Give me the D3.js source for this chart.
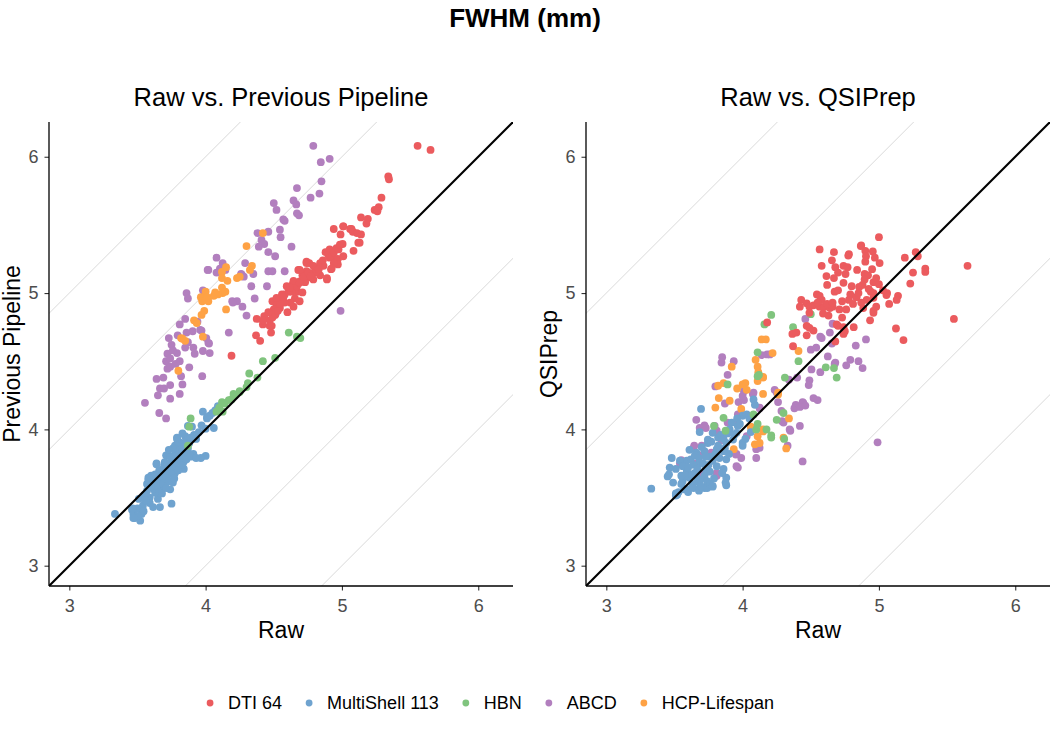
<!DOCTYPE html>
<html>
<head>
<meta charset="utf-8">
<script src="https://cdn.jsdelivr.net/npm/d3@7"></script>
<style>
  html, body { margin: 0; padding: 0; background: #fff; }
  svg { display: block; font-family: "Liberation Sans", Arial, Helvetica, sans-serif; }
</style>
</head>
<body>
<svg id="chart" width="1050" height="741"></svg>
<script>
// ---------------- DATA (raw FWHM, processed FWHM) ----------------
const seriesNames = ["DTI 64", "MultiShell 113", "HBN", "ABCD", "HCP-Lifespan"];
const seriesColors = ["#EB5B5E", "#6FA3CF", "#80C47E", "#B27FBE", "#FEA245"];
const tickValues = [3, 4, 5, 6];
const panelTitles = ["Raw vs. Previous Pipeline", "Raw vs. QSIPrep"];
const yLabels = ["Previous Pipeline", "QSIPrep"];
const refOffsets = [-2, -1, 1, 2];

// Left panel: Raw vs Previous Pipeline
const prevDTI = [[5.555,6.08],[5.65,6.05],[5.34,5.855],[5.345,5.835],[5.29,5.70],[5.27,5.63],[5.24,5.61],[5.26,5.60],[5.14,5.555],[5.19,5.545],[5.18,5.51],[4.94,5.47],[5.01,5.49],[5.06,5.47],[5.08,5.45],[4.99,5.43],[5.14,5.43],[5.13,5.37],[5.005,5.36],[4.88,5.30],[4.91,5.32],[4.96,5.33],[4.93,5.27],[4.90,5.28],[4.97,5.25],[4.97,5.21],[4.85,5.22],[4.92,5.175],[4.74,5.23],[4.76,5.22],[4.80,5.19],[4.81,5.15],[4.78,5.14],[4.74,5.16],[4.68,5.17],[4.71,5.13],[4.75,5.115],[4.84,5.13],[4.89,5.10],[4.79,5.10],[4.73,5.08],[4.69,5.085],[4.64,5.07],[4.655,5.045],[4.61,5.01],[4.67,5.01],[4.71,5.005],[4.58,4.99],[4.655,4.96],[4.56,4.95],[4.69,4.94],[4.49,4.94],[4.52,4.915],[4.62,4.93],[4.375,4.81],[4.42,4.77],[4.47,4.80],[4.48,4.71],[4.37,4.69],[4.40,4.65],[4.47,4.76],[4.51,4.84],[4.545,4.89],[4.60,4.86],[4.645,4.90],[4.19,4.54],[4.43,4.83],[4.49,4.82],[4.485,4.76],[4.50,4.88],[4.545,4.915],[4.58,4.93],[4.52,4.965],[4.56,4.99],[4.63,5.01],[4.67,5.05],[4.595,5.05],[4.645,5.09],[4.69,5.075],[4.72,5.12],[4.755,5.15],[4.69,5.17],[4.74,5.22],[4.79,5.20],[4.84,5.22],[4.815,5.16],[4.865,5.20],[4.89,5.11],[4.91,5.26],[4.94,5.295],[4.975,5.32],[4.985,5.355],[5.01,5.27],[4.94,5.22],[4.925,5.18],[5.01,5.49],[5.07,5.47],[5.12,5.37],[5.11,5.44],[5.085,5.31],[4.86,5.24],[4.83,5.175],[4.77,5.125],[4.62,5.04],[4.57,4.97],[4.53,4.87],[4.46,4.86],[4.42,4.80]];
const prevMulti = [[3.335,3.38],[3.46,3.41],[3.48,3.35],[3.52,3.33],[3.53,3.38],[3.51,3.49],[3.54,3.44],[3.57,3.55],[3.59,3.50],[3.59,3.46],[3.615,3.43],[3.665,3.43],[3.65,3.49],[3.63,3.535],[3.75,3.455],[3.615,3.585],[3.68,3.57],[3.74,3.56],[3.60,3.66],[3.58,3.63],[3.65,3.63],[3.70,3.61],[3.76,3.61],[3.665,3.695],[3.73,3.67],[3.775,3.68],[3.64,3.75],[3.695,3.73],[3.84,3.71],[3.71,3.81],[3.80,3.79],[3.75,3.76],[3.84,3.765],[3.79,3.94],[3.85,3.95],[3.915,3.96],[3.775,3.88],[3.82,3.865],[3.86,3.83],[3.91,3.82],[4.00,3.805],[3.965,3.79],[3.90,4.02],[3.98,4.13],[4.01,4.08],[4.06,4.01],[4.00,4.005],[4.09,4.17],[3.55,3.52],[3.57,3.60],[3.62,3.56],[3.62,3.62],[3.64,3.58],[3.66,3.54],[3.67,3.62],[3.68,3.66],[3.69,3.60],[3.70,3.68],[3.71,3.64],[3.72,3.70],[3.72,3.74],[3.73,3.62],[3.74,3.72],[3.75,3.69],[3.76,3.74],[3.77,3.78],[3.78,3.72],[3.78,3.83],[3.79,3.76],[3.80,3.85],[3.81,3.80],[3.82,3.77],[3.82,3.90],[3.83,3.84],[3.84,3.81],[3.85,3.88],[3.86,3.92],[3.87,3.86],[3.88,3.90],[3.89,3.94],[3.88,3.82],[3.93,3.93],[3.95,3.98],[3.97,4.03],[4.03,4.10],[4.05,4.12],[4.07,4.14],[3.70,3.76],[3.66,3.70],[3.63,3.67],[3.60,3.58],[3.56,3.48],[3.50,3.42],[3.47,3.38],[3.545,3.40],[3.68,3.53],[3.71,3.57],[3.77,3.64],[3.80,3.70],[3.83,3.74],[3.86,3.78],[3.89,3.80],[3.93,3.79],[3.83,3.97],[3.80,3.91],[3.76,3.86],[3.74,3.80],[3.73,3.85],[4.01,4.09],[3.465,3.42],[3.50,3.365],[3.47,3.35],[3.79,3.93],[3.87,4.025],[3.64,3.745],[3.58,3.645]];
const prevHBN = [[4.61,4.71],[4.67,4.68],[4.695,4.67],[4.51,4.525],[4.42,4.50],[4.32,4.41],[4.38,4.38],[4.31,4.34],[4.30,4.31],[4.25,4.28],[4.215,4.25],[4.17,4.215],[4.12,4.20],[4.105,4.135],[4.08,4.13],[4.125,4.13],[3.89,4.08],[3.88,4.02],[3.87,3.88],[4.14,4.19],[4.10,4.16],[4.19,4.22],[4.205,4.26],[4.25,4.275]];
const prevABCD = [[4.79,6.08],[4.845,5.96],[4.91,5.985],[4.85,5.82],[4.835,5.73],[4.77,5.70],[4.67,5.77],[4.645,5.68],[4.665,5.65],[4.50,5.66],[4.52,5.61],[4.67,5.585],[4.685,5.57],[4.58,5.53],[4.46,5.45],[4.545,5.465],[4.55,5.41],[4.41,5.39],[4.43,5.36],[4.39,5.34],[4.63,5.34],[4.46,5.30],[4.51,5.27],[4.08,5.26],[4.125,5.22],[4.29,5.22],[4.02,5.17],[4.105,5.18],[4.145,5.17],[4.08,5.15],[4.46,5.16],[4.49,5.16],[4.58,5.16],[4.26,5.14],[4.28,5.12],[4.35,5.14],[4.335,5.05],[4.45,5.05],[4.36,4.96],[3.86,5.00],[3.87,4.96],[3.98,5.02],[4.195,4.94],[4.23,4.94],[4.27,4.90],[4.99,4.87],[4.515,4.85],[4.17,4.71],[3.85,4.81],[3.81,4.77],[3.73,4.67],[3.795,4.69],[3.75,4.62],[3.72,4.555],[3.71,4.50],[3.74,4.52],[3.81,4.50],[3.79,4.56],[3.72,4.445],[3.74,4.46],[3.88,4.455],[3.82,4.39],[3.64,4.37],[3.69,4.38],[3.74,4.325],[3.83,4.33],[3.665,4.30],[3.695,4.30],[3.65,4.25],[3.74,4.225],[3.81,4.26],[3.975,4.39],[3.555,4.195],[3.66,4.12],[3.71,4.08],[3.87,4.64],[3.91,4.60],[3.92,4.555],[3.98,4.575],[4.03,4.56],[4.02,4.635],[3.97,4.725],[3.94,4.79],[3.905,4.72],[3.86,4.71],[4.20,4.93],[4.30,4.835],[4.005,4.67],[4.025,4.63],[3.96,4.73],[4.57,5.54],[4.015,5.17],[4.38,5.44],[4.265,5.135],[3.76,4.58],[3.78,4.48],[3.85,4.60]];
const prevHCP = [[4.42,5.44],[4.30,5.345],[4.34,5.20],[4.325,5.17],[4.15,5.19],[4.12,5.155],[4.12,5.11],[4.16,5.09],[4.23,5.11],[4.25,5.12],[4.12,5.04],[4.125,5.00],[4.09,4.99],[4.145,5.01],[4.06,4.98],[4.00,5.01],[3.965,4.97],[4.02,4.94],[3.975,4.94],[4.15,4.88],[3.99,4.87],[3.97,4.84],[3.915,4.80],[3.935,4.78],[3.83,4.665],[3.85,4.65],[3.98,4.68],[3.80,4.43],[4.07,5.005],[4.01,4.97],[3.82,4.67]];

// Right panel: Raw vs QSIPrep
const qsiDTI = [[5.00,5.41],[4.565,5.32],[4.67,5.30],[4.78,5.285],[4.87,5.35],[4.90,5.31],[4.955,5.305],[4.905,5.27],[4.90,5.23],[4.97,5.26],[5.005,5.22],[5.19,5.26],[5.27,5.30],[5.285,5.27],[5.65,5.20],[4.58,5.20],[4.655,5.24],[4.68,5.19],[4.74,5.20],[4.77,5.19],[4.70,5.15],[4.755,5.14],[4.615,5.125],[4.67,5.11],[4.84,5.17],[4.895,5.14],[4.92,5.13],[4.95,5.175],[4.895,5.10],[5.34,5.18],[5.34,5.155],[5.25,5.15],[5.23,5.07],[4.62,5.06],[4.74,5.075],[4.96,5.08],[5.00,5.065],[4.855,5.045],[4.925,5.03],[4.94,5.01],[4.96,5.00],[4.675,5.01],[4.70,5.02],[4.545,4.99],[4.565,4.98],[4.79,4.99],[4.835,4.97],[4.73,4.94],[4.78,4.95],[4.81,4.92],[4.91,4.95],[4.96,4.965],[5.06,5.00],[5.14,4.98],[5.13,4.95],[5.075,4.92],[4.43,4.95],[4.42,4.90],[4.47,4.925],[4.49,4.90],[4.52,4.91],[4.49,4.855],[4.565,4.90],[4.60,4.90],[4.64,4.89],[4.66,4.90],[4.59,4.85],[4.63,4.835],[4.71,4.88],[4.76,4.88],[4.73,4.82],[4.885,4.89],[4.98,4.90],[4.96,4.87],[4.935,4.80],[5.55,4.81],[5.125,4.74],[5.18,4.655],[4.18,4.785],[4.47,4.76],[4.49,4.745],[4.52,4.725],[4.69,4.77],[4.70,4.76],[4.74,4.75],[4.75,4.72],[4.74,4.70],[4.815,4.75],[4.365,4.70],[4.395,4.71],[4.47,4.69],[4.37,4.61],[4.68,4.645],[4.867,5.345],[4.775,5.275],[4.96,4.855],[5.055,4.985],[4.58,4.95],[4.62,4.92],[4.55,4.93],[4.66,4.93],[4.85,5.00],[4.88,5.06],[5.03,5.02],[4.98,5.11],[4.87,4.93],[4.80,5.05]];
const qsiMulti = [[3.33,3.565],[3.51,3.53],[3.48,3.79],[3.695,4.15],[4.08,4.22],[3.685,3.98],[3.465,3.72],[3.46,3.67],[3.49,3.61],[3.55,3.60],[3.59,3.56],[3.685,3.57],[3.72,3.57],[3.78,3.585],[3.875,3.61],[3.88,3.645],[3.86,3.71],[3.61,3.85],[3.59,3.77],[3.685,3.755],[3.73,3.71],[3.65,3.68],[3.61,3.645],[3.67,3.62],[3.59,3.695],[3.76,3.80],[3.81,3.855],[3.745,3.90],[3.86,3.84],[3.88,3.90],[3.93,3.925],[3.905,4.00],[3.965,4.025],[4.00,4.10],[4.03,4.11],[4.00,3.90],[3.955,3.975],[3.82,3.94],[3.78,3.975],[3.745,3.925],[3.66,3.83],[3.54,3.77],[3.56,3.73],[3.51,3.71],[3.88,3.78],[3.72,3.84],[3.52,3.52],[3.53,3.54],[3.56,3.62],[3.58,3.66],[3.60,3.72],[3.62,3.78],[3.63,3.60],[3.64,3.74],[3.65,3.81],[3.66,3.66],[3.67,3.71],[3.68,3.79],[3.69,3.63],[3.70,3.87],[3.71,3.75],[3.72,3.66],[3.73,3.80],[3.74,3.62],[3.75,3.74],[3.76,3.69],[3.77,3.91],[3.78,3.77],[3.79,3.64],[3.80,3.82],[3.81,3.73],[3.82,3.88],[3.83,3.79],[3.84,3.96],[3.85,3.68],[3.86,3.93],[3.87,3.86],[3.89,3.97],[3.90,3.82],[3.92,4.05],[3.94,3.96],[3.96,4.08],[3.98,4.04],[4.02,3.93],[4.05,4.08],[4.06,3.98],[4.09,4.18],[3.57,3.56],[3.60,3.54],[3.64,3.57],[3.68,3.55],[3.70,3.58],[3.74,3.57],[3.76,3.60],[3.63,3.67],[3.55,3.66],[4.00,3.88],[3.88,3.59],[3.78,3.58],[3.51,3.515],[3.45,3.655]];
const qsiHBN = [[4.21,4.84],[4.16,4.77],[4.37,4.75],[4.50,4.845],[4.11,4.565],[4.41,4.50],[4.12,4.40],[4.31,4.38],[4.61,4.455],[4.67,4.45],[4.69,4.38],[3.89,4.33],[4.30,4.12],[4.25,4.07],[4.11,4.04],[4.10,4.00],[4.175,4.00],[4.21,3.955],[4.305,3.93],[3.86,4.085],[3.79,4.025],[3.875,3.99],[4.08,4.11],[4.21,3.94],[4.11,4.39]];
const qsiABCD = [[4.46,4.81],[4.66,4.775],[4.57,4.68],[4.64,4.71],[4.655,4.63],[4.83,4.615],[4.905,4.66],[4.50,4.585],[4.54,4.60],[4.625,4.535],[4.68,4.49],[4.675,4.48],[4.79,4.51],[4.76,4.47],[4.85,4.50],[4.88,4.45],[4.505,4.44],[4.57,4.42],[4.49,4.36],[4.485,4.325],[4.40,4.38],[4.34,4.365],[4.235,4.29],[4.26,4.20],[4.52,4.23],[4.55,4.215],[4.44,4.20],[4.39,4.18],[4.18,4.55],[4.14,4.545],[4.20,4.55],[3.85,4.53],[3.845,4.49],[3.935,4.50],[3.89,4.40],[3.80,4.315],[4.01,4.28],[4.08,4.27],[3.87,4.19],[3.97,4.20],[4.01,4.215],[3.66,4.07],[3.72,4.03],[3.81,3.99],[3.795,4.025],[4.125,4.16],[4.285,4.135],[4.345,4.00],[4.29,4.06],[3.965,4.11],[3.955,4.05],[3.89,4.05],[3.70,3.88],[3.77,3.83],[3.55,3.775],[3.645,3.88],[3.955,3.82],[3.99,3.79],[3.955,3.73],[3.81,3.68],[3.71,3.67],[4.03,3.95],[4.10,3.855],[4.44,3.765],[4.99,3.905],[4.33,3.88],[4.395,4.17],[4.445,4.195],[4.835,4.97],[4.58,4.67],[4.38,4.155],[4.42,4.165],[4.46,4.175],[4.35,3.99],[4.30,4.05],[4.25,4.27],[4.075,4.26],[4.00,4.245],[4.125,4.155],[3.685,4.01],[3.73,4.01],[3.845,3.92],[3.855,3.855],[3.95,3.815],[3.965,3.72],[3.66,3.75],[3.64,3.865],[3.71,3.815],[3.54,3.75],[3.81,3.66],[4.10,3.79],[4.125,3.865],[4.42,4.025]];
const qsiHCP = [[4.14,4.66],[4.41,4.575],[4.22,4.56],[4.095,4.51],[3.92,4.46],[4.11,4.46],[4.115,4.42],[4.15,4.38],[4.11,4.355],[4.02,4.34],[4.00,4.33],[3.96,4.30],[3.86,4.34],[3.82,4.32],[4.15,4.26],[4.26,4.27],[3.825,4.23],[3.905,4.21],[3.80,4.16],[4.06,4.02],[4.11,3.95],[4.15,4.00],[4.09,3.89],[4.125,3.90],[4.34,4.08],[4.30,3.94],[4.32,3.86],[3.935,3.855],[4.17,4.66],[4.15,4.385],[4.03,4.29],[4.26,4.255],[3.99,4.15],[4.065,4.00],[4.15,3.985]];

// ---------------- DRAWING ----------------
const svg = d3.select("#chart");
const W = 1050;
const domain = [2.851, 6.255];
const panelTop = 122, panelBottom = 586;
const panels = [
  { x0: 49, x1: 513, data: [prevABCD, prevHCP, prevMulti, prevHBN, prevDTI] },
  { x0: 586, x1: 1050, data: [qsiABCD, qsiHCP, qsiMulti, qsiHBN, qsiDTI] }
];
const drawOrder = [3, 4, 1, 2, 0]; // series index for each entry in panels[i].data
const tickColor = "#4D4D4D";

// Main title
svg.append("text")
  .attr("x", W / 2).attr("y", 27)
  .attr("text-anchor", "middle")
  .attr("font-size", "26px").attr("font-weight", "bold")
  .attr("fill", "#000")
  .text("FWHM (mm)");

panels.forEach((p, i) => {
  const x = d3.scaleLinear().domain(domain).range([p.x0, p.x1]);
  const y = d3.scaleLinear().domain(domain).range([panelBottom, panelTop]);
  const g = svg.append("g");

  const clipId = "clip" + i;
  svg.append("defs").append("clipPath").attr("id", clipId)
    .append("rect").attr("x", p.x0).attr("y", panelTop)
    .attr("width", p.x1 - p.x0).attr("height", panelBottom - panelTop);

  const inner = g.append("g").attr("clip-path", `url(#${clipId})`);

  // reference lines y = x + k
  refOffsets.forEach(k => {
    inner.append("line")
      .attr("x1", x(domain[0] - 3)).attr("y1", y(domain[0] - 3 + k))
      .attr("x2", x(domain[1] + 3)).attr("y2", y(domain[1] + 3 + k))
      .attr("stroke", "#CFCFCF").attr("stroke-width", 0.8);
  });

  // points
  p.data.forEach((arr, j) => {
    const si = drawOrder[j];
    inner.append("g").selectAll("circle")
      .data(arr).join("circle")
      .attr("cx", d => x(d[0]))
      .attr("cy", d => y(d[1]))
      .attr("r", 3.9)
      .attr("fill", seriesColors[si]);
  });

  // identity line
  inner.append("line")
    .attr("x1", x(domain[0])).attr("y1", y(domain[0]))
    .attr("x2", x(domain[1])).attr("y2", y(domain[1]))
    .attr("stroke", "#000").attr("stroke-width", 2.1);

  // axes
  const fmt = d3.format("d");
  const xAxis = d3.axisBottom(x).tickValues(tickValues).tickFormat(fmt).tickSizeInner(4.5).tickSizeOuter(0).tickPadding(9);
  const yAxis = d3.axisLeft(y).tickValues(tickValues).tickFormat(fmt).tickSizeInner(4.5).tickSizeOuter(0).tickPadding(6);

  const gx = g.append("g").attr("transform", `translate(0,${panelBottom})`).call(xAxis);
  const gy = g.append("g").attr("transform", `translate(${p.x0},0)`).call(yAxis);
  [gx, gy].forEach(ax => {
    ax.select(".domain").remove();
    ax.selectAll(".tick line").attr("stroke", "#333").attr("stroke-width", 1.1);
    ax.selectAll(".tick text").attr("fill", tickColor)
      .attr("font-size", "18px").attr("font-family", "Liberation Sans, Arial, sans-serif");
  });
  // axis lines
  g.append("line").attr("x1", p.x0).attr("x2", p.x1).attr("y1", panelBottom).attr("y2", panelBottom)
    .attr("stroke", "#000").attr("stroke-width", 1.3);
  g.append("line").attr("x1", p.x0).attr("x2", p.x0).attr("y1", panelTop).attr("y2", panelBottom)
    .attr("stroke", "#000").attr("stroke-width", 1.3);

  const cx = (p.x0 + p.x1) / 2;
  // panel title
  g.append("text").attr("x", cx).attr("y", 106)
    .attr("text-anchor", "middle").attr("font-size", "25.5px").attr("fill", "#000")
    .text(panelTitles[i]);
  // x label
  g.append("text").attr("x", cx).attr("y", 638)
    .attr("text-anchor", "middle").attr("font-size", "23px").attr("fill", "#000")
    .text("Raw");
  // y label
  const cy = (panelTop + panelBottom) / 2;
  g.append("text")
    .attr("transform", `translate(${p.x0 - 29},${cy}) rotate(-90)`)
    .attr("text-anchor", "middle").attr("font-size", "23px").attr("fill", "#000")
    .text(yLabels[i]);
});

// Legend
const legend = svg.append("g");
let cursor = 0;
const keyW = 16, textGap = 10, itemGap = 19;
seriesNames.forEach((name, i) => {
  const item = legend.append("g").attr("transform", `translate(${cursor},0)`);
  item.append("circle").attr("cx", keyW / 2).attr("cy", 0).attr("r", 3.4).attr("fill", seriesColors[i]);
  const t = item.append("text").attr("x", keyW + textGap).attr("y", 0).attr("dy", "0.35em")
    .attr("font-size", "18px").attr("fill", "#000").text(name);
  cursor += keyW + textGap + t.node().getComputedTextLength() + itemGap;
});
const totalW = cursor - itemGap;
legend.attr("transform", `translate(${488 - totalW / 2},${703})`);
</script>
</body>
</html>
